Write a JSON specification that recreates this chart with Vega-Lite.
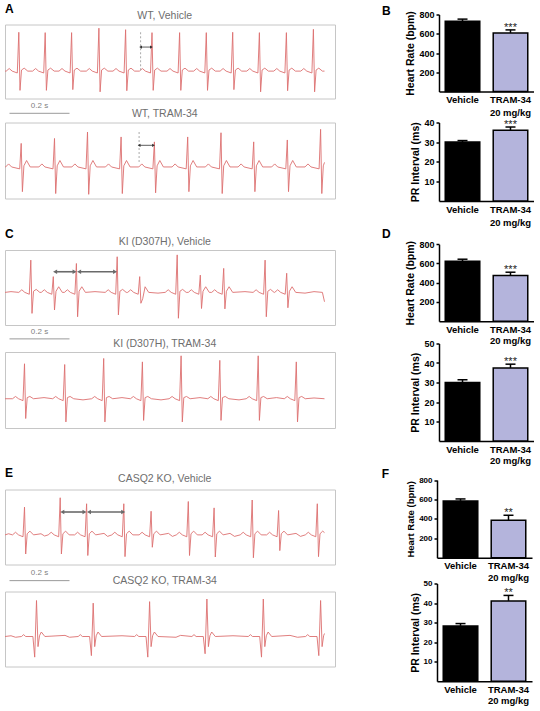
{
"$schema": "https://vega.github.io/schema/vega-lite/v6.json",
"background": "white",
"padding": {"left": 4, "top": 1.5, "right": 0, "bottom": 0},
"config": {
 "font": "Liberation Sans",
 "view": {"stroke": null},
 "title": {"font": "Liberation Sans", "fontSize": 12, "fontWeight": "bold", "color": "#000000", "anchor": "start", "frame": "bounds", "dx": -24},
 "axis": {"domainColor": "#000000", "domainWidth": 1.5, "tickColor": "#000000", "tickWidth": 1.5, "tickSize": 3, "grid": false, "labelFont": "Liberation Sans", "labelFontWeight": "bold", "labelColor": "#000000", "labelFontSize": 9, "labelPadding": 2, "labelOverlap": false, "titleFont": "Liberation Sans", "titleFontWeight": "bold", "titleColor": "#000000", "titleFontSize": 10.5, "titlePadding": 3}
},
"datasets": {
 "A1": [{"t":0,"v":-0.26},
{"t":4,"v":-0.26},{"t":14,"v":-0.19},{"t":24,"v":-0.26},{"t":41,"v":-0.31},{"t":46,"v":0.79},{"t":50,"v":-0.78},{"t":55,"v":-0.23},{"t":64,"v":-0.18},{"t":76,"v":-0.26},
{"t":92,"v":-0.26},{"t":102,"v":-0.19},{"t":112,"v":-0.26},{"t":129,"v":-0.31},{"t":134,"v":0.78},{"t":138,"v":-0.78},{"t":143,"v":-0.23},{"t":152,"v":-0.18},{"t":164,"v":-0.26},
{"t":180,"v":-0.26},{"t":190,"v":-0.19},{"t":200,"v":-0.26},{"t":217,"v":-0.31},{"t":222,"v":0.78},{"t":226,"v":-0.76},{"t":231,"v":-0.23},{"t":240,"v":-0.18},{"t":252,"v":-0.26},
{"t":271,"v":-0.26},{"t":281,"v":-0.19},{"t":291,"v":-0.26},{"t":308,"v":-0.31},{"t":313,"v":0.9},{"t":317,"v":-0.82},{"t":322,"v":-0.23},{"t":331,"v":-0.18},{"t":343,"v":-0.26},
{"t":360,"v":-0.26},{"t":370,"v":-0.19},{"t":380,"v":-0.26},{"t":397,"v":-0.31},{"t":402,"v":0.86},{"t":406,"v":-0.79},{"t":411,"v":-0.23},{"t":420,"v":-0.18},{"t":432,"v":-0.26},
{"t":448,"v":-0.26},{"t":458,"v":-0.19},{"t":468,"v":-0.26},{"t":485,"v":-0.31},{"t":490,"v":0.78},{"t":494,"v":-0.78},{"t":499,"v":-0.23},{"t":508,"v":-0.18},{"t":520,"v":-0.26},
{"t":540,"v":-0.26},{"t":550,"v":-0.19},{"t":560,"v":-0.26},{"t":577,"v":-0.31},{"t":582,"v":0.78},{"t":586,"v":-0.78},{"t":591,"v":-0.23},{"t":600,"v":-0.18},{"t":612,"v":-0.26},
{"t":629,"v":-0.26},{"t":639,"v":-0.19},{"t":649,"v":-0.26},{"t":666,"v":-0.31},{"t":671,"v":0.78},{"t":675,"v":-0.78},{"t":680,"v":-0.23},{"t":689,"v":-0.18},{"t":701,"v":-0.26},
{"t":717,"v":-0.26},{"t":727,"v":-0.19},{"t":737,"v":-0.26},{"t":754,"v":-0.31},{"t":759,"v":0.79},{"t":763,"v":-0.76},{"t":768,"v":-0.23},{"t":777,"v":-0.18},{"t":789,"v":-0.26},
{"t":806,"v":-0.26},{"t":816,"v":-0.19},{"t":826,"v":-0.26},{"t":843,"v":-0.31},{"t":848,"v":0.78},{"t":852,"v":-0.82},{"t":857,"v":-0.23},{"t":866,"v":-0.18},{"t":878,"v":-0.26},
{"t":896,"v":-0.26},{"t":906,"v":-0.19},{"t":916,"v":-0.26},{"t":933,"v":-0.31},{"t":938,"v":0.78},{"t":942,"v":-0.79},{"t":947,"v":-0.23},{"t":956,"v":-0.18},{"t":968,"v":-0.26},
{"t":986,"v":-0.26},{"t":996,"v":-0.19},{"t":1006,"v":-0.26},{"t":1023,"v":-0.31},{"t":1028,"v":0.87},{"t":1032,"v":-0.82},{"t":1037,"v":-0.23},{"t":1046,"v":-0.18},{"t":1058,"v":-0.26},
{"t":1065,"v":-0.26}],
 "A2": [{"t":0,"v":-0.17},
{"t":2,"v":-0.17},{"t":12,"v":-0.09},{"t":22,"v":-0.17},{"t":49,"v":-0.22},{"t":54,"v":0.45},{"t":58,"v":-0.82},{"t":63,"v":-0.14},{"t":72,"v":0.0},{"t":84,"v":-0.17},
{"t":113,"v":-0.17},{"t":123,"v":-0.09},{"t":133,"v":-0.17},{"t":160,"v":-0.22},{"t":165,"v":0.58},{"t":169,"v":-0.87},{"t":174,"v":-0.14},{"t":183,"v":0.0},{"t":195,"v":-0.17},
{"t":223,"v":-0.17},{"t":233,"v":-0.09},{"t":243,"v":-0.17},{"t":270,"v":-0.22},{"t":275,"v":0.75},{"t":279,"v":-0.89},{"t":284,"v":-0.14},{"t":293,"v":0.0},{"t":305,"v":-0.17},
{"t":335,"v":-0.17},{"t":345,"v":-0.09},{"t":355,"v":-0.17},{"t":382,"v":-0.22},{"t":387,"v":0.62},{"t":391,"v":-0.87},{"t":396,"v":-0.14},{"t":405,"v":0.0},{"t":417,"v":-0.17},
{"t":446,"v":-0.17},{"t":456,"v":-0.09},{"t":466,"v":-0.17},{"t":493,"v":-0.22},{"t":498,"v":0.49},{"t":502,"v":-0.85},{"t":507,"v":-0.14},{"t":516,"v":0.0},{"t":528,"v":-0.17},
{"t":557,"v":-0.17},{"t":567,"v":-0.09},{"t":577,"v":-0.17},{"t":604,"v":-0.22},{"t":609,"v":0.62},{"t":613,"v":-0.82},{"t":618,"v":-0.14},{"t":627,"v":0.0},{"t":639,"v":-0.17},
{"t":668,"v":-0.17},{"t":678,"v":-0.09},{"t":688,"v":-0.17},{"t":715,"v":-0.22},{"t":720,"v":0.73},{"t":724,"v":-0.87},{"t":729,"v":-0.14},{"t":738,"v":0.0},{"t":750,"v":-0.17},
{"t":777,"v":-0.17},{"t":787,"v":-0.09},{"t":797,"v":-0.17},{"t":824,"v":-0.22},{"t":829,"v":0.49},{"t":833,"v":-0.82},{"t":838,"v":-0.14},{"t":847,"v":0.0},{"t":859,"v":-0.17},
{"t":889,"v":-0.17},{"t":899,"v":-0.09},{"t":909,"v":-0.17},{"t":936,"v":-0.22},{"t":941,"v":0.54},{"t":945,"v":-0.82},{"t":950,"v":-0.14},{"t":959,"v":0.0},{"t":971,"v":-0.17},
{"t":1000,"v":-0.17},{"t":1010,"v":-0.09},{"t":1020,"v":-0.17},{"t":1047,"v":-0.22},{"t":1052,"v":0.82},{"t":1056,"v":-0.87},{"t":1061,"v":-0.14},{"t":1065,"v":-0.05}],
 "C1": [{"t":0,"v":-0.13},{"t":20,"v":-0.11},
{"t":46,"v":-0.13},{"t":56,"v":-0.06},{"t":66,"v":-0.13},{"t":81,"v":-0.18},{"t":86,"v":0.73},{"t":90,"v":-0.69},{"t":95,"v":-0.1},{"t":104,"v":-0.05},{"t":116,"v":-0.13},
{"t":121,"v":-0.13},{"t":131,"v":-0.06},{"t":141,"v":-0.13},{"t":156,"v":-0.18},{"t":161,"v":0.29},{"t":165,"v":-0.6},{"t":170,"v":-0.1},{"t":179,"v":0.02},{"t":191,"v":-0.13},
{"t":198,"v":-0.13},{"t":208,"v":-0.06},{"t":218,"v":-0.13},{"t":233,"v":-0.18},{"t":238,"v":0.64},{"t":242,"v":-0.78},{"t":247,"v":-0.1},{"t":256,"v":0.02},{"t":268,"v":-0.13},
{"t":300,"v":-0.11},
{"t":334,"v":-0.13},{"t":344,"v":-0.06},{"t":354,"v":-0.13},{"t":369,"v":-0.18},{"t":374,"v":0.82},{"t":378,"v":-0.73},{"t":383,"v":-0.1},{"t":392,"v":-0.05},{"t":404,"v":-0.13},
{"t":409,"v":-0.13},{"t":419,"v":-0.06},{"t":429,"v":-0.13},{"t":444,"v":-0.18},{"t":449,"v":0.29},{"t":453,"v":-0.42},{"t":459,"v":-0.3},{"t":467,"v":0.02},{"t":479,"v":-0.13},
{"t":510,"v":-0.15},
{"t":534,"v":-0.13},{"t":544,"v":-0.06},{"t":554,"v":-0.13},{"t":569,"v":-0.18},{"t":574,"v":0.87},{"t":578,"v":-0.82},{"t":583,"v":-0.1},{"t":592,"v":-0.05},{"t":604,"v":-0.13},
{"t":611,"v":-0.13},{"t":621,"v":-0.06},{"t":631,"v":-0.13},{"t":646,"v":-0.18},{"t":651,"v":0.33},{"t":655,"v":-0.56},{"t":660,"v":-0.1},{"t":669,"v":0.02},{"t":681,"v":-0.13},
{"t":689,"v":-0.13},{"t":699,"v":-0.06},{"t":709,"v":-0.13},{"t":724,"v":-0.18},{"t":729,"v":0.51},{"t":733,"v":-0.57},{"t":738,"v":-0.1},{"t":747,"v":0.02},{"t":759,"v":-0.13},
{"t":800,"v":-0.11},
{"t":827,"v":-0.13},{"t":837,"v":-0.06},{"t":847,"v":-0.13},{"t":862,"v":-0.18},{"t":867,"v":0.73},{"t":871,"v":-0.78},{"t":876,"v":-0.1},{"t":885,"v":-0.05},{"t":897,"v":-0.13},
{"t":899,"v":-0.13},{"t":909,"v":-0.06},{"t":919,"v":-0.13},{"t":934,"v":-0.18},{"t":939,"v":0.38},{"t":943,"v":-0.54},{"t":948,"v":-0.1},{"t":957,"v":0.02},{"t":969,"v":-0.13},
{"t":1000,"v":-0.15},{"t":1030,"v":-0.11},{"t":1058,"v":-0.13},{"t":1065,"v":-0.38}],
 "C2": [{"t":0,"v":-0.23},
{"t":25,"v":-0.23},{"t":35,"v":-0.17},{"t":45,"v":-0.23},{"t":60,"v":-0.28},{"t":65,"v":0.69},{"t":69,"v":-0.75},{"t":74,"v":-0.2},{"t":83,"v":-0.17},{"t":95,"v":-0.23},
{"t":130,"v":-0.2},
{"t":159,"v":-0.23},{"t":169,"v":-0.17},{"t":179,"v":-0.23},{"t":194,"v":-0.28},{"t":199,"v":0.67},{"t":203,"v":-0.84},{"t":208,"v":-0.2},{"t":217,"v":-0.17},{"t":229,"v":-0.23},
{"t":260,"v":-0.26},
{"t":289,"v":-0.23},{"t":299,"v":-0.17},{"t":309,"v":-0.23},{"t":324,"v":-0.28},{"t":329,"v":0.83},{"t":333,"v":-0.84},{"t":338,"v":-0.2},{"t":347,"v":-0.17},{"t":359,"v":-0.23},
{"t":390,"v":-0.2},
{"t":418,"v":-0.23},{"t":428,"v":-0.17},{"t":438,"v":-0.23},{"t":453,"v":-0.28},{"t":458,"v":0.74},{"t":462,"v":-0.8},{"t":467,"v":-0.2},{"t":476,"v":-0.17},{"t":488,"v":-0.23},
{"t":520,"v":-0.26},
{"t":547,"v":-0.23},{"t":557,"v":-0.17},{"t":567,"v":-0.23},{"t":582,"v":-0.28},{"t":587,"v":0.9},{"t":591,"v":-0.84},{"t":596,"v":-0.2},{"t":605,"v":-0.17},{"t":617,"v":-0.23},
{"t":650,"v":-0.2},
{"t":676,"v":-0.23},{"t":686,"v":-0.17},{"t":696,"v":-0.23},{"t":711,"v":-0.28},{"t":716,"v":0.78},{"t":720,"v":-0.8},{"t":725,"v":-0.2},{"t":734,"v":-0.17},{"t":746,"v":-0.23},
{"t":780,"v":-0.26},
{"t":804,"v":-0.23},{"t":814,"v":-0.17},{"t":824,"v":-0.23},{"t":839,"v":-0.28},{"t":844,"v":0.9},{"t":848,"v":-0.8},{"t":853,"v":-0.2},{"t":862,"v":-0.17},{"t":874,"v":-0.23},
{"t":905,"v":-0.2},
{"t":931,"v":-0.23},{"t":941,"v":-0.17},{"t":951,"v":-0.23},{"t":966,"v":-0.28},{"t":971,"v":0.74},{"t":975,"v":-0.84},{"t":980,"v":-0.2},{"t":989,"v":-0.17},{"t":1001,"v":-0.23},
{"t":1030,"v":-0.21},{"t":1065,"v":-0.23}],
 "E1": [{"t":0,"v":-0.21},{"t":12,"v":-0.18},
{"t":25,"v":-0.21},{"t":35,"v":-0.14},{"t":45,"v":-0.21},{"t":60,"v":-0.26},{"t":65,"v":0.53},{"t":69,"v":-0.72},{"t":74,"v":-0.18},{"t":83,"v":-0.11},{"t":95,"v":-0.21},
{"t":120,"v":-0.18},{"t":132,"v":-0.24},
{"t":144,"v":-0.21},{"t":154,"v":-0.14},{"t":164,"v":-0.21},{"t":179,"v":-0.26},{"t":184,"v":0.78},{"t":188,"v":-0.72},{"t":193,"v":-0.18},{"t":202,"v":-0.11},{"t":214,"v":-0.21},
{"t":232,"v":-0.21},{"t":242,"v":-0.14},{"t":252,"v":-0.21},{"t":267,"v":-0.26},{"t":272,"v":0.62},{"t":276,"v":-0.76},{"t":281,"v":-0.18},{"t":290,"v":-0.11},{"t":302,"v":-0.21},
{"t":330,"v":-0.17},{"t":342,"v":-0.25},
{"t":356,"v":-0.21},{"t":366,"v":-0.14},{"t":376,"v":-0.21},{"t":391,"v":-0.26},{"t":396,"v":0.62},{"t":400,"v":-0.79},{"t":405,"v":-0.18},{"t":414,"v":-0.11},{"t":426,"v":-0.21},
{"t":447,"v":-0.21},{"t":457,"v":-0.14},{"t":467,"v":-0.21},{"t":482,"v":-0.26},{"t":487,"v":0.42},{"t":491,"v":-0.54},{"t":496,"v":-0.18},{"t":505,"v":-0.11},{"t":517,"v":-0.21},
{"t":545,"v":-0.17},{"t":558,"v":-0.25},
{"t":571,"v":-0.21},{"t":581,"v":-0.14},{"t":591,"v":-0.21},{"t":606,"v":-0.26},{"t":611,"v":0.68},{"t":615,"v":-0.76},{"t":620,"v":-0.18},{"t":629,"v":-0.11},{"t":641,"v":-0.21},
{"t":657,"v":-0.21},{"t":667,"v":-0.14},{"t":677,"v":-0.21},{"t":692,"v":-0.26},{"t":697,"v":0.51},{"t":701,"v":-0.8},{"t":706,"v":-0.18},{"t":715,"v":-0.11},{"t":727,"v":-0.21},
{"t":750,"v":-0.17},{"t":765,"v":-0.25},
{"t":784,"v":-0.21},{"t":794,"v":-0.14},{"t":804,"v":-0.21},{"t":819,"v":-0.26},{"t":824,"v":0.72},{"t":828,"v":-0.82},{"t":833,"v":-0.18},{"t":842,"v":-0.11},{"t":854,"v":-0.21},
{"t":872,"v":-0.21},{"t":882,"v":-0.14},{"t":892,"v":-0.21},{"t":907,"v":-0.26},{"t":912,"v":0.44},{"t":916,"v":-0.63},{"t":921,"v":-0.18},{"t":930,"v":-0.11},{"t":942,"v":-0.21},
{"t":970,"v":-0.17},{"t":985,"v":-0.25},
{"t":1001,"v":-0.21},{"t":1011,"v":-0.14},{"t":1021,"v":-0.21},{"t":1036,"v":-0.26},{"t":1041,"v":0.62},{"t":1045,"v":-0.79},{"t":1050,"v":-0.18},{"t":1059,"v":-0.11},{"t":1065,"v":-0.15}],
 "E2": [{"t":0,"v":-0.2},{"t":20,"v":-0.18},{"t":35,"v":-0.22},
{"t":55,"v":-0.2},{"t":62,"v":-0.15},{"t":69,"v":-0.2},{"t":93,"v":-0.2},{"t":99,"v":-0.75},{"t":105,"v":0.76},{"t":110,"v":-0.47},{"t":115,"v":-0.18},{"t":121,"v":-0.08},{"t":133,"v":-0.2},
{"t":200,"v":-0.17},{"t":215,"v":-0.22},
{"t":244,"v":-0.2},{"t":251,"v":-0.15},{"t":258,"v":-0.2},{"t":282,"v":-0.2},{"t":288,"v":-0.71},{"t":294,"v":0.69},{"t":299,"v":-0.47},{"t":304,"v":-0.18},{"t":310,"v":-0.08},{"t":322,"v":-0.2},
{"t":390,"v":-0.18},
{"t":432,"v":-0.2},{"t":439,"v":-0.15},{"t":446,"v":-0.2},{"t":470,"v":-0.2},{"t":476,"v":-0.75},{"t":482,"v":0.73},{"t":487,"v":-0.47},{"t":492,"v":-0.18},{"t":498,"v":-0.08},{"t":510,"v":-0.2},
{"t":570,"v":-0.22},{"t":585,"v":-0.17},
{"t":623,"v":-0.2},{"t":630,"v":-0.15},{"t":637,"v":-0.2},{"t":661,"v":-0.2},{"t":667,"v":-0.66},{"t":673,"v":0.8},{"t":678,"v":-0.47},{"t":683,"v":-0.18},{"t":689,"v":-0.08},{"t":701,"v":-0.2},
{"t":760,"v":-0.18},
{"t":811,"v":-0.2},{"t":818,"v":-0.15},{"t":825,"v":-0.2},{"t":849,"v":-0.2},{"t":855,"v":-0.75},{"t":861,"v":0.8},{"t":866,"v":-0.47},{"t":871,"v":-0.18},{"t":877,"v":-0.08},{"t":889,"v":-0.2},
{"t":950,"v":-0.17},{"t":975,"v":-0.22},
{"t":1002,"v":-0.2},{"t":1009,"v":-0.15},{"t":1016,"v":-0.2},{"t":1040,"v":-0.2},{"t":1046,"v":-0.71},{"t":1052,"v":0.76},{"t":1057,"v":-0.47},{"t":1062,"v":-0.18},{"t":1065,"v":-0.12}],
 "arrows": [
  {"id":"A1","t1":452,"t2":488,"v":0.39},
  {"id":"A2","t1":447,"t2":495,"v":0.40},
  {"id":"C1","t1":167,"t2":232,"v":0.42},
  {"id":"C1","t1":247,"t2":367,"v":0.42},
  {"id":"E1","t1":191,"t2":265,"v":0.40},
  {"id":"E1","t1":280,"t2":394,"v":0.40}
 ],
 "dash": [{"id":"A1","t":452,"v1":0.79,"v2":-0.24},{"id":"A2","t":447,"v1":0.75,"v2":-0.08}],
 "bars": [
  {"p":"B","m":"HR","g":"Vehicle","y":730,"hi":752,"s":""},
  {"p":"B","m":"HR","g":"TRAM-34","y":609,"hi":640,"s":"***"},
  {"p":"B","m":"PR","g":"Vehicle","y":30.1,"hi":30.8,"s":""},
  {"p":"B","m":"PR","g":"TRAM-34","y":36.1,"hi":37.7,"s":"***"},
  {"p":"D","m":"HR","g":"Vehicle","y":623,"hi":644,"s":""},
  {"p":"D","m":"HR","g":"TRAM-34","y":474,"hi":509,"s":"***"},
  {"p":"D","m":"PR","g":"Vehicle","y":30.0,"hi":31.4,"s":""},
  {"p":"D","m":"PR","g":"TRAM-34","y":37.5,"hi":39.4,"s":"***"},
  {"p":"F","m":"HR","g":"Vehicle","y":585,"hi":605,"s":""},
  {"p":"F","m":"HR","g":"TRAM-34","y":386,"hi":437,"s":"**"},
  {"p":"F","m":"PR","g":"Vehicle","y":28.3,"hi":29.5,"s":""},
  {"p":"F","m":"PR","g":"TRAM-34","y":41.1,"hi":43.9,"s":"**"}
 ]
},
"spacing": 0.5,
"vconcat": [
 {"spacing": 45, "hconcat": [
  {"bounds": "flush", "spacing": 24,
   "vconcat": [
    {"width": 330, "height": 74, "view": {"stroke": "#c6c6c6", "strokeWidth": 1},
     "layer": [
      {"data": {"name": "A1"}, "mark": {"type": "line", "color": "#dd6f6f", "strokeWidth": 0.9, "clip": true},
       "encoding": {"x": {"field": "t", "type": "quantitative", "scale": {"domain": [0, 1065]}, "axis": null}, "y": {"field": "v", "type": "quantitative", "scale": {"domain": [-1, 1]}, "axis": null}}},
      {"data": {"name": "dash"}, "transform": [{"filter": "datum.id == 'A1'"}], "mark": {"type": "rule", "color": "#aaaaaa", "strokeDash": [2, 2]}, "encoding": {"x": {"field": "t", "type": "quantitative"}, "y": {"field": "v1", "type": "quantitative"}, "y2": {"field": "v2"}}},
      {"data": {"name": "arrows"}, "transform": [{"filter": "datum.id == 'A1'"}], "mark": {"type": "rule", "color": "#333333", "strokeWidth": 0.8}, "encoding": {"x": {"field": "t1", "type": "quantitative"}, "x2": {"field": "t2"}, "y": {"field": "v", "type": "quantitative"}}},
      {"data": {"name": "arrows"}, "transform": [{"filter": "datum.id == 'A1'"}], "mark": {"type": "point", "shape": "triangle-left", "filled": true, "size": 10, "color": "#333333", "opacity": 1}, "encoding": {"x": {"field": "t1", "type": "quantitative"}, "y": {"field": "v", "type": "quantitative"}}},
      {"data": {"name": "arrows"}, "transform": [{"filter": "datum.id == 'A1'"}], "mark": {"type": "point", "shape": "triangle-right", "filled": true, "size": 10, "color": "#333333", "opacity": 1}, "encoding": {"x": {"field": "t2", "type": "quantitative"}, "y": {"field": "v", "type": "quantitative"}}},
      {"data": {"values": [{}]}, "mark": {"type": "rule", "color": "#9a9a9a", "strokeWidth": 1}, "encoding": {"x": {"datum": 15}, "x2": {"datum": 215}, "y": {"datum": -1.4}}},
      {"data": {"values": [{}]}, "mark": {"type": "text", "text": "0.2 s", "fontSize": 8, "color": "#808080", "baseline": "middle"}, "encoding": {"x": {"datum": 115}, "y": {"datum": -1.21}}},
      {"data": {"values": [{}]}, "mark": {"type": "text", "text": "WT, Vehicle", "fontSize": 10.5, "color": "#6e6e6e", "baseline": "middle"}, "encoding": {"x": {"datum": 532.5}, "y": {"datum": 1.243}}},
      {"data": {"values": [{}]}, "mark": {"type": "text", "text": "A", "align": "left", "baseline": "middle", "fontSize": 12, "fontWeight": "bold", "color": "#000000"}, "encoding": {"x": {"datum": 0}, "y": {"datum": 1.43}}}
     ]},
    {"width": 330, "height": 76, "view": {"stroke": "#c6c6c6", "strokeWidth": 1},
     "layer": [
      {"data": {"name": "A2"}, "mark": {"type": "line", "color": "#dd6f6f", "strokeWidth": 0.9, "clip": true},
       "encoding": {"x": {"field": "t", "type": "quantitative", "scale": {"domain": [0, 1065]}, "axis": null}, "y": {"field": "v", "type": "quantitative", "scale": {"domain": [-1, 1]}, "axis": null}}},
      {"data": {"name": "dash"}, "transform": [{"filter": "datum.id == 'A2'"}], "mark": {"type": "rule", "color": "#aaaaaa", "strokeDash": [2, 2]}, "encoding": {"x": {"field": "t", "type": "quantitative"}, "y": {"field": "v1", "type": "quantitative"}, "y2": {"field": "v2"}}},
      {"data": {"name": "arrows"}, "transform": [{"filter": "datum.id == 'A2'"}], "mark": {"type": "rule", "color": "#333333", "strokeWidth": 0.8}, "encoding": {"x": {"field": "t1", "type": "quantitative"}, "x2": {"field": "t2"}, "y": {"field": "v", "type": "quantitative"}}},
      {"data": {"name": "arrows"}, "transform": [{"filter": "datum.id == 'A2'"}], "mark": {"type": "point", "shape": "triangle-left", "filled": true, "size": 10, "color": "#333333", "opacity": 1}, "encoding": {"x": {"field": "t1", "type": "quantitative"}, "y": {"field": "v", "type": "quantitative"}}},
      {"data": {"name": "arrows"}, "transform": [{"filter": "datum.id == 'A2'"}], "mark": {"type": "point", "shape": "triangle-right", "filled": true, "size": 10, "color": "#333333", "opacity": 1}, "encoding": {"x": {"field": "t2", "type": "quantitative"}, "y": {"field": "v", "type": "quantitative"}}},
      {"data": {"values": [{}]}, "mark": {"type": "text", "text": "WT, TRAM-34", "fontSize": 10.5, "color": "#6e6e6e", "baseline": "middle"}, "encoding": {"x": {"datum": 532.5}, "y": {"datum": 1.218}}}
     ]}
   ]},
  {"bounds": "flush", "spacing": 31,
   "vconcat": [
    {"width": 95, "height": 67, "data": {"name": "bars"}, "transform": [{"filter": "datum.p == 'B' && datum.m == 'HR'"}],
     "title": {"text": "B", "offset": -7.5},
     "encoding": {"x": {"field": "g", "type": "nominal", "sort": ["Vehicle", "TRAM-34"], "scale": {"paddingInner": 0.28, "paddingOuter": 0.13}, "axis": {"title": null, "ticks": false, "labelAngle": 0, "labelFontSize": 9.5, "labelPadding": 3, "labelLineHeight": 13, "labelExpr": "datum.value == 'TRAM-34' ? ['TRAM-34', '20 mg/kg'] : datum.label"}}},
     "layer": [
      {"mark": {"type": "bar", "stroke": "#000000", "strokeWidth": 1.5}, "encoding": {"y": {"field": "y", "type": "quantitative", "scale": {"domain": [0, 800], "nice": false, "range": [67, -10]}, "axis": {"values": [200, 400, 600, 800], "tickCount": 10, "labelOverlap": false, "title": "Heart Rate (bpm)"}}, "fill": {"field": "g", "type": "nominal", "scale": {"domain": ["Vehicle", "TRAM-34"], "range": ["#000000", "#b4b4dc"]}, "legend": null}}},
      {"mark": {"type": "rule", "color": "#000000", "strokeWidth": 1.5}, "encoding": {"y": {"field": "y", "type": "quantitative"}, "y2": {"field": "hi"}}},
      {"mark": {"type": "tick", "orient": "horizontal", "color": "#000000", "size": 10, "thickness": 1.5, "opacity": 1}, "encoding": {"y": {"field": "hi", "type": "quantitative"}}},
      {"mark": {"type": "text", "baseline": "alphabetic", "dy": 1, "fontSize": 11, "color": "#222222"}, "encoding": {"y": {"field": "hi", "type": "quantitative"}, "text": {"field": "s"}}}
     ]},
    {"width": 95, "height": 78.5, "data": {"name": "bars"}, "transform": [{"filter": "datum.p == 'B' && datum.m == 'PR'"}],
     "encoding": {"x": {"field": "g", "type": "nominal", "sort": ["Vehicle", "TRAM-34"], "scale": {"paddingInner": 0.28, "paddingOuter": 0.13}, "axis": {"title": null, "ticks": false, "labelAngle": 0, "labelFontSize": 9.5, "labelPadding": 3, "labelLineHeight": 13, "labelExpr": "datum.value == 'TRAM-34' ? ['TRAM-34', '20 mg/kg'] : datum.label"}}},
     "layer": [
      {"mark": {"type": "bar", "stroke": "#000000", "strokeWidth": 1.5}, "encoding": {"y": {"field": "y", "type": "quantitative", "scale": {"domain": [0, 40], "nice": false}, "axis": {"values": [10, 20, 30, 40], "tickCount": 10, "labelOverlap": false, "title": "PR Interval (ms)"}}, "fill": {"field": "g", "type": "nominal", "scale": {"domain": ["Vehicle", "TRAM-34"], "range": ["#000000", "#b4b4dc"]}, "legend": null}}},
      {"mark": {"type": "rule", "color": "#000000", "strokeWidth": 1.5}, "encoding": {"y": {"field": "y", "type": "quantitative"}, "y2": {"field": "hi"}}},
      {"mark": {"type": "tick", "orient": "horizontal", "color": "#000000", "size": 10, "thickness": 1.5, "opacity": 1}, "encoding": {"y": {"field": "hi", "type": "quantitative"}}},
      {"mark": {"type": "text", "baseline": "alphabetic", "dy": 1, "fontSize": 11, "color": "#222222"}, "encoding": {"y": {"field": "hi", "type": "quantitative"}, "text": {"field": "s"}}}
     ]}
   ]}
 ]},
 {"spacing": 45, "hconcat": [
  {"bounds": "flush", "spacing": 27,
   "vconcat": [
    {"width": 330, "height": 75, "view": {"stroke": "#c6c6c6", "strokeWidth": 1},
     "layer": [
      {"data": {"name": "C1"}, "mark": {"type": "line", "color": "#dd6f6f", "strokeWidth": 0.9, "clip": true},
       "encoding": {"x": {"field": "t", "type": "quantitative", "scale": {"domain": [0, 1065]}, "axis": null}, "y": {"field": "v", "type": "quantitative", "scale": {"domain": [-1, 1]}, "axis": null}}},
      {"data": {"name": "arrows"}, "transform": [{"filter": "datum.id == 'C1'"}], "mark": {"type": "rule", "color": "#6a6a6a", "strokeWidth": 1.6}, "encoding": {"x": {"field": "t1", "type": "quantitative"}, "x2": {"field": "t2"}, "y": {"field": "v", "type": "quantitative"}}},
      {"data": {"name": "arrows"}, "transform": [{"filter": "datum.id == 'C1'"}], "mark": {"type": "point", "shape": "triangle-left", "filled": true, "size": 22, "color": "#6a6a6a", "opacity": 1}, "encoding": {"x": {"field": "t1", "type": "quantitative"}, "y": {"field": "v", "type": "quantitative"}}},
      {"data": {"name": "arrows"}, "transform": [{"filter": "datum.id == 'C1'"}], "mark": {"type": "point", "shape": "triangle-right", "filled": true, "size": 22, "color": "#6a6a6a", "opacity": 1}, "encoding": {"x": {"field": "t2", "type": "quantitative"}, "y": {"field": "v", "type": "quantitative"}}},
      {"data": {"values": [{}]}, "mark": {"type": "rule", "color": "#9a9a9a", "strokeWidth": 1}, "encoding": {"x": {"datum": 15}, "x2": {"datum": 215}, "y": {"datum": -1.37}}},
      {"data": {"values": [{}]}, "mark": {"type": "text", "text": "0.2 s", "fontSize": 8, "color": "#808080", "baseline": "middle"}, "encoding": {"x": {"datum": 115}, "y": {"datum": -1.18}}},
      {"data": {"values": [{}]}, "mark": {"type": "text", "text": "KI (D307H), Vehicle", "fontSize": 10.5, "color": "#6e6e6e", "baseline": "middle"}, "encoding": {"x": {"datum": 532.5}, "y": {"datum": 1.221}}},
      {"data": {"values": [{}]}, "mark": {"type": "text", "text": "C", "align": "left", "baseline": "middle", "fontSize": 12, "fontWeight": "bold", "color": "#000000"}, "encoding": {"x": {"datum": 0}, "y": {"datum": 1.416}}}
     ]},
    {"width": 330, "height": 76, "view": {"stroke": "#c6c6c6", "strokeWidth": 1},
     "layer": [
      {"data": {"name": "C2"}, "mark": {"type": "line", "color": "#dd6f6f", "strokeWidth": 0.9, "clip": true},
       "encoding": {"x": {"field": "t", "type": "quantitative", "scale": {"domain": [0, 1065]}, "axis": null}, "y": {"field": "v", "type": "quantitative", "scale": {"domain": [-1, 1]}, "axis": null}}},
      {"data": {"values": [{}]}, "mark": {"type": "text", "text": "KI (D307H), TRAM-34", "fontSize": 10.5, "color": "#6e6e6e", "baseline": "middle"}, "encoding": {"x": {"datum": 532.5}, "y": {"datum": 1.218}}}
     ]}
   ]},
  {"bounds": "flush", "spacing": 21.5,
   "vconcat": [
    {"width": 95, "height": 71.2, "data": {"name": "bars"}, "transform": [{"filter": "datum.p == 'D' && datum.m == 'HR'"}],
     "title": {"text": "D", "offset": -0.5},
     "encoding": {"x": {"field": "g", "type": "nominal", "sort": ["Vehicle", "TRAM-34"], "scale": {"paddingInner": 0.28, "paddingOuter": 0.13}, "axis": {"title": null, "ticks": false, "labelAngle": 0, "labelFontSize": 9.5, "labelPadding": 3, "labelLineHeight": 11, "labelExpr": "datum.value == 'TRAM-34' ? ['TRAM-34', '20 mg/kg'] : datum.label"}}},
     "layer": [
      {"mark": {"type": "bar", "stroke": "#000000", "strokeWidth": 1.5}, "encoding": {"y": {"field": "y", "type": "quantitative", "scale": {"domain": [0, 800], "nice": false, "range": [71.2, -5.8]}, "axis": {"values": [200, 400, 600, 800], "tickCount": 10, "labelOverlap": false, "title": "Heart Rate (bpm)"}}, "fill": {"field": "g", "type": "nominal", "scale": {"domain": ["Vehicle", "TRAM-34"], "range": ["#000000", "#b4b4dc"]}, "legend": null}}},
      {"mark": {"type": "rule", "color": "#000000", "strokeWidth": 1.5}, "encoding": {"y": {"field": "y", "type": "quantitative"}, "y2": {"field": "hi"}}},
      {"mark": {"type": "tick", "orient": "horizontal", "color": "#000000", "size": 10, "thickness": 1.5, "opacity": 1}, "encoding": {"y": {"field": "hi", "type": "quantitative"}}},
      {"mark": {"type": "text", "baseline": "alphabetic", "dy": 1, "fontSize": 11, "color": "#222222"}, "encoding": {"y": {"field": "hi", "type": "quantitative"}, "text": {"field": "s"}}}
     ]},
    {"width": 95, "height": 97.5, "data": {"name": "bars"}, "transform": [{"filter": "datum.p == 'D' && datum.m == 'PR'"}],
     "encoding": {"x": {"field": "g", "type": "nominal", "sort": ["Vehicle", "TRAM-34"], "scale": {"paddingInner": 0.28, "paddingOuter": 0.13}, "axis": {"title": null, "ticks": false, "labelAngle": 0, "labelFontSize": 9.5, "labelPadding": 3, "labelLineHeight": 11, "labelExpr": "datum.value == 'TRAM-34' ? ['TRAM-34', '20 mg/kg'] : datum.label"}}},
     "layer": [
      {"mark": {"type": "bar", "stroke": "#000000", "strokeWidth": 1.5}, "encoding": {"y": {"field": "y", "type": "quantitative", "scale": {"domain": [0, 50], "nice": false}, "axis": {"values": [10, 20, 30, 40, 50], "tickCount": 10, "labelOverlap": false, "title": "PR Interval (ms)"}}, "fill": {"field": "g", "type": "nominal", "scale": {"domain": ["Vehicle", "TRAM-34"], "range": ["#000000", "#b4b4dc"]}, "legend": null}}},
      {"mark": {"type": "rule", "color": "#000000", "strokeWidth": 1.5}, "encoding": {"y": {"field": "y", "type": "quantitative"}, "y2": {"field": "hi"}}},
      {"mark": {"type": "tick", "orient": "horizontal", "color": "#000000", "size": 10, "thickness": 1.5, "opacity": 1}, "encoding": {"y": {"field": "hi", "type": "quantitative"}}},
      {"mark": {"type": "text", "baseline": "alphabetic", "dy": 1, "fontSize": 11, "color": "#222222"}, "encoding": {"y": {"field": "hi", "type": "quantitative"}, "text": {"field": "s"}}}
     ]}
   ]}
 ]},
 {"spacing": 45, "hconcat": [
  {"bounds": "flush", "spacing": 27,
   "vconcat": [
    {"width": 330, "height": 75, "view": {"stroke": "#c6c6c6", "strokeWidth": 1},
     "layer": [
      {"data": {"name": "E1"}, "mark": {"type": "line", "color": "#dd6f6f", "strokeWidth": 0.9, "clip": true},
       "encoding": {"x": {"field": "t", "type": "quantitative", "scale": {"domain": [0, 1065]}, "axis": null}, "y": {"field": "v", "type": "quantitative", "scale": {"domain": [-1, 1]}, "axis": null}}},
      {"data": {"name": "arrows"}, "transform": [{"filter": "datum.id == 'E1'"}], "mark": {"type": "rule", "color": "#6a6a6a", "strokeWidth": 1.6}, "encoding": {"x": {"field": "t1", "type": "quantitative"}, "x2": {"field": "t2"}, "y": {"field": "v", "type": "quantitative"}}},
      {"data": {"name": "arrows"}, "transform": [{"filter": "datum.id == 'E1'"}], "mark": {"type": "point", "shape": "triangle-left", "filled": true, "size": 22, "color": "#6a6a6a", "opacity": 1}, "encoding": {"x": {"field": "t1", "type": "quantitative"}, "y": {"field": "v", "type": "quantitative"}}},
      {"data": {"name": "arrows"}, "transform": [{"filter": "datum.id == 'E1'"}], "mark": {"type": "point", "shape": "triangle-right", "filled": true, "size": 22, "color": "#6a6a6a", "opacity": 1}, "encoding": {"x": {"field": "t2", "type": "quantitative"}, "y": {"field": "v", "type": "quantitative"}}},
      {"data": {"values": [{}]}, "mark": {"type": "rule", "color": "#9a9a9a", "strokeWidth": 1}, "encoding": {"x": {"datum": 15}, "x2": {"datum": 215}, "y": {"datum": -1.43}}},
      {"data": {"values": [{}]}, "mark": {"type": "text", "text": "0.2 s", "fontSize": 8, "color": "#808080", "baseline": "middle"}, "encoding": {"x": {"datum": 115}, "y": {"datum": -1.22}}},
      {"data": {"values": [{}]}, "mark": {"type": "text", "text": "CASQ2 KO, Vehicle", "fontSize": 10.5, "color": "#6e6e6e", "baseline": "middle"}, "encoding": {"x": {"datum": 532.5}, "y": {"datum": 1.267}}},
      {"data": {"values": [{}]}, "mark": {"type": "text", "text": "E", "align": "left", "baseline": "middle", "fontSize": 12, "fontWeight": "bold", "color": "#000000"}, "encoding": {"x": {"datum": 0}, "y": {"datum": 1.453}}}
     ]},
    {"width": 330, "height": 75, "view": {"stroke": "#c6c6c6", "strokeWidth": 1},
     "layer": [
      {"data": {"name": "E2"}, "mark": {"type": "line", "color": "#dd6f6f", "strokeWidth": 0.9, "clip": true},
       "encoding": {"x": {"field": "t", "type": "quantitative", "scale": {"domain": [0, 1065]}, "axis": null}, "y": {"field": "v", "type": "quantitative", "scale": {"domain": [-1, 1]}, "axis": null}}},
      {"data": {"values": [{}]}, "mark": {"type": "text", "text": "CASQ2 KO, TRAM-34", "fontSize": 10.5, "color": "#6e6e6e", "baseline": "middle"}, "encoding": {"x": {"datum": 532.5}, "y": {"datum": 1.293}}}
     ]}
   ]},
  {"bounds": "flush", "spacing": 25,
   "vconcat": [
    {"width": 95, "height": 68.2, "data": {"name": "bars"}, "transform": [{"filter": "datum.p == 'F' && datum.m == 'HR'"}],
     "title": {"text": "F", "offset": -4.5},
     "encoding": {"x": {"field": "g", "type": "nominal", "sort": ["Vehicle", "TRAM-34"], "scale": {"paddingInner": 0.28, "paddingOuter": 0.13}, "axis": {"title": null, "ticks": false, "labelAngle": 0, "labelFontSize": 9.5, "labelPadding": 3, "labelLineHeight": 11.7, "labelExpr": "datum.value == 'TRAM-34' ? ['TRAM-34', '20 mg/kg'] : datum.label"}}},
     "layer": [
      {"mark": {"type": "bar", "stroke": "#000000", "strokeWidth": 1.5}, "encoding": {"y": {"field": "y", "type": "quantitative", "scale": {"domain": [0, 800], "nice": false, "range": [68.2, -9.5]}, "axis": {"values": [200, 400, 600, 800], "tickCount": 10, "labelOverlap": false, "title": "Heart Rate (bpm)", "titleFontSize": 9.5, "labelFontSize": 8}}, "fill": {"field": "g", "type": "nominal", "scale": {"domain": ["Vehicle", "TRAM-34"], "range": ["#000000", "#b4b4dc"]}, "legend": null}}},
      {"mark": {"type": "rule", "color": "#000000", "strokeWidth": 1.5}, "encoding": {"y": {"field": "y", "type": "quantitative"}, "y2": {"field": "hi"}}},
      {"mark": {"type": "tick", "orient": "horizontal", "color": "#000000", "size": 10, "thickness": 1.5, "opacity": 1}, "encoding": {"y": {"field": "hi", "type": "quantitative"}}},
      {"mark": {"type": "text", "baseline": "alphabetic", "dy": 1, "fontSize": 11, "color": "#222222"}, "encoding": {"y": {"field": "hi", "type": "quantitative"}, "text": {"field": "s"}}}
     ]},
    {"width": 95, "height": 97.7, "data": {"name": "bars"}, "transform": [{"filter": "datum.p == 'F' && datum.m == 'PR'"}],
     "encoding": {"x": {"field": "g", "type": "nominal", "sort": ["Vehicle", "TRAM-34"], "scale": {"paddingInner": 0.28, "paddingOuter": 0.13}, "axis": {"title": null, "ticks": false, "labelAngle": 0, "labelFontSize": 9.5, "labelPadding": 3, "labelLineHeight": 11.7, "labelExpr": "datum.value == 'TRAM-34' ? ['TRAM-34', '20 mg/kg'] : datum.label"}}},
     "layer": [
      {"mark": {"type": "bar", "stroke": "#000000", "strokeWidth": 1.5}, "encoding": {"y": {"field": "y", "type": "quantitative", "scale": {"domain": [0, 50], "nice": false}, "axis": {"values": [10, 20, 30, 40, 50], "tickCount": 10, "labelOverlap": false, "title": "PR Interval (ms)", "labelFontSize": 8}}, "fill": {"field": "g", "type": "nominal", "scale": {"domain": ["Vehicle", "TRAM-34"], "range": ["#000000", "#b4b4dc"]}, "legend": null}}},
      {"mark": {"type": "rule", "color": "#000000", "strokeWidth": 1.5}, "encoding": {"y": {"field": "y", "type": "quantitative"}, "y2": {"field": "hi"}}},
      {"mark": {"type": "tick", "orient": "horizontal", "color": "#000000", "size": 10, "thickness": 1.5, "opacity": 1}, "encoding": {"y": {"field": "hi", "type": "quantitative"}}},
      {"mark": {"type": "text", "baseline": "alphabetic", "dy": 1, "fontSize": 11, "color": "#222222"}, "encoding": {"y": {"field": "hi", "type": "quantitative"}, "text": {"field": "s"}}}
     ]}
   ]}
 ]}
]
}
